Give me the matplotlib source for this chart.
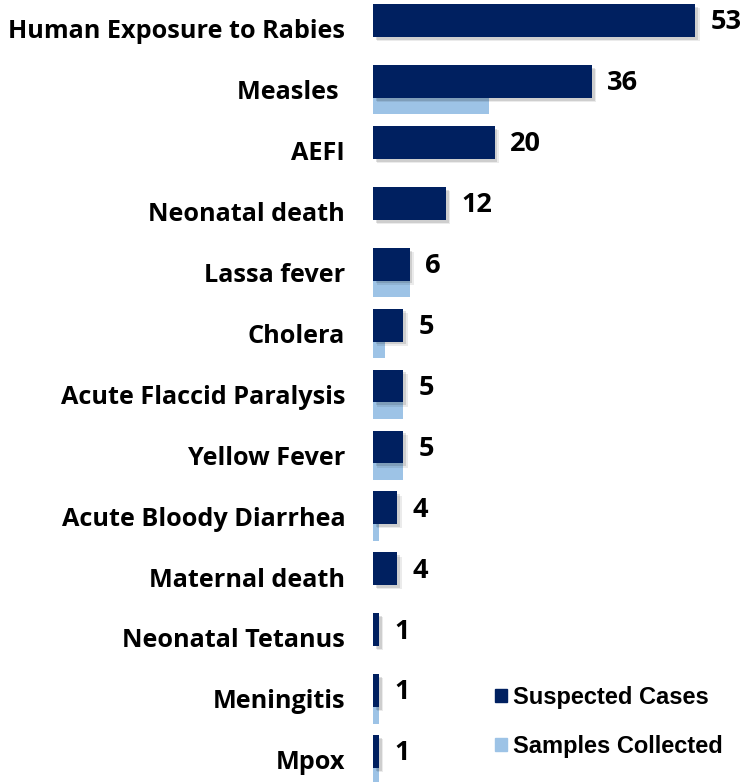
import numpy as np
import matplotlib
matplotlib.use("Agg")
import matplotlib.pyplot as plt
import matplotlib.patheffects as pe
from matplotlib.patches import Patch

# data
categories = ['Human Exposure to Rabies', 'Measles ', 'AEFI', 'Neonatal death',
              'Lassa fever', 'Cholera', 'Acute Flaccid Paralysis', 'Yellow Fever',
              'Acute Bloody Diarrhea', 'Maternal death', 'Neonatal Tetanus',
              'Meningitis', 'Mpox']
suspected = [53, 36, 20, 12, 6, 5, 5, 5, 4, 4, 1, 1, 1]
samples = [0, 19, 0, 0, 6, 2, 5, 5, 1, 0, 0, 1, 1]

dark = '#002060'
light = '#9DC3E6'

W, H = 741, 782
fig = plt.figure(figsize=(W / 100, H / 100), dpi=100)
ax = fig.add_axes([373 / W, 0, 365 / W, 1])

y = np.arange(len(categories))
bh = 0.54
off = 0.27

ax.barh(y + off, samples, height=bh, color=light, zorder=2)
bars = ax.barh(y, suspected, height=bh, color=dark, zorder=3)
# soft drop shadow like the office chart
for b in bars:
    b.set_path_effects([pe.SimplePatchShadow(offset=(3, -3), shadow_rgbFace='black', alpha=0.08),
                        pe.SimplePatchShadow(offset=(2, -2), shadow_rgbFace='black', alpha=0.12),
                        pe.Normal()])

for yi, v in zip(y, suspected):
    ax.text(v + 2.5, yi + 0.03, str(v), va='center', ha='left',
            fontsize=19.5, fontweight='bold', family='Open Sans', color='black')

ax.set_xlim(0, 60)
ax.set_ylim(12.50, -0.337)
ax.set_yticks(y + 0.135)
ax.set_yticklabels(categories, fontsize=18.2, fontweight='bold', family='Open Sans')
ax.tick_params(axis='y', length=0, pad=20)
ax.set_xticks([])
for s in ax.spines.values():
    s.set_visible(False)

handles = [Patch(color=dark), Patch(color=light)]
fig.legend(handles, ['Suspected Cases', 'Samples Collected'],
           loc='upper left', bbox_to_anchor=(483 / W, 1 - 674 / H),
           frameon=False, prop={'family': 'Liberation Sans', 'weight': 'bold', 'size': 17},
           handlelength=0.5, handleheight=0.5, handletextpad=0.25,
           labelspacing=1.1, borderpad=0)

fig.savefig('out.png', dpi=100)
